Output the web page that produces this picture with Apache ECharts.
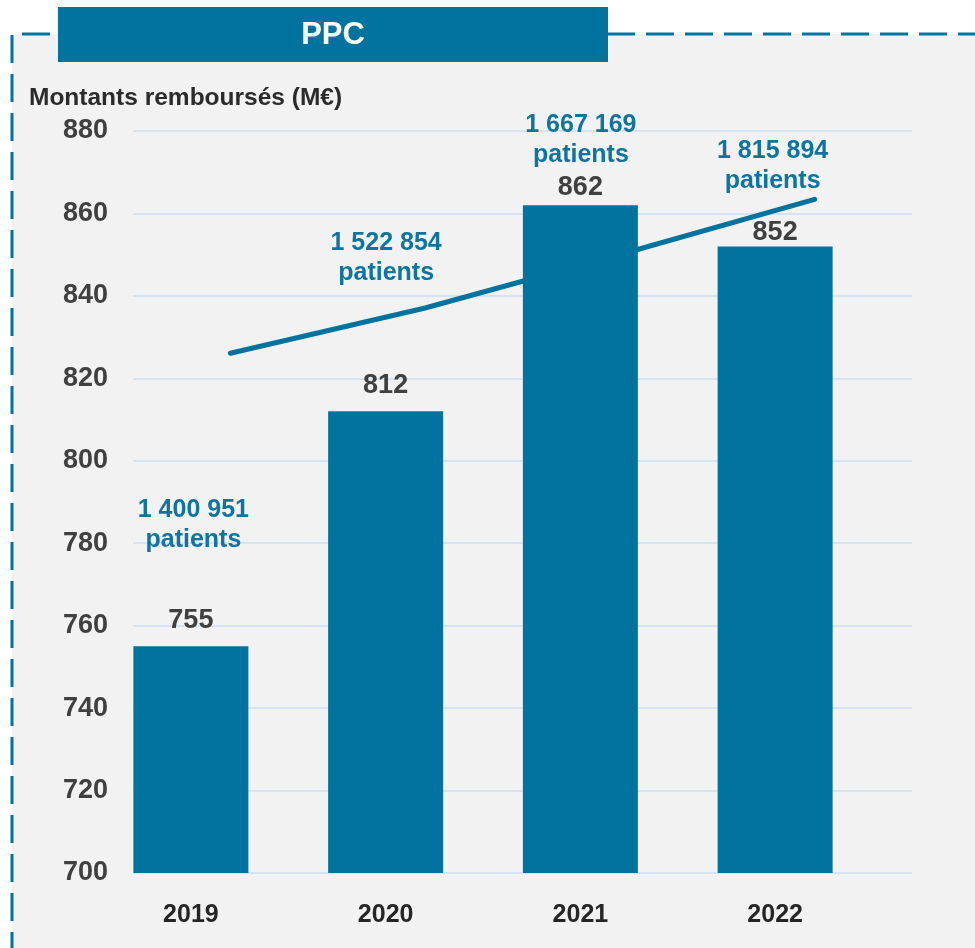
<!DOCTYPE html>
<html>
<head>
<meta charset="utf-8">
<script src="https://cdn.jsdelivr.net/npm/echarts@6/dist/echarts.min.js"></script>
<style>
html,body{margin:0;padding:0;background:#fff;}
#chart{width:975px;height:948px;}
</style>
</head>
<body>
<div id="chart"></div>
<script>
// ---- Data ----
const years = ['2019', '2020', '2021', '2022'];
const montants = [755, 812, 862, 852];            // Montants remboursés (M€)
const patients = [1400951, 1522854, 1667169, 1815894];
const yMin = 700, yMax = 880, yStep = 20;
const patientsAxisMax = 2000000;
const title = 'PPC';
const yAxisTitle = 'Montants remboursés (M€)';

// ---- Layout / style ----
const TEAL = '#00739f';
const FONT = '"Liberation Sans", Arial, sans-serif';
const patientLabelOffsets = [[-37, 206.5], [-39, -14.5], [-39, -79], [-42, 1.5]];
const barLabelDistances = [12, 12, 4, 0];

function fmt(n) {
  return String(n).replace(/\B(?=(\d{3})+(?!\d))/g, ' ');
}

const chart = echarts.init(document.getElementById('chart'), null, {renderer: 'canvas'});

const option = {
  backgroundColor: '#ffffff',
  animation: false,
  textStyle: {fontFamily: FONT},
  grid: [
    {left: 133, right: 63, top: 131, bottom: 75},
    {left: 93.5, right: 102.5, top: 131, bottom: 75}
  ],
  xAxis: [
    {gridIndex: 0, type: 'category', data: years, show: false},
    {
      gridIndex: 1, type: 'category', data: years,
      axisLine: {show: false}, axisTick: {show: false},
      axisLabel: {margin: 30, color: '#262626', fontSize: 25, fontWeight: 'bold', fontFamily: FONT}
    }
  ],
  yAxis: [
    {
      gridIndex: 0, type: 'value', min: yMin, max: yMax, interval: yStep,
      axisLine: {show: false}, axisTick: {show: false},
      axisLabel: {margin: 25, color: '#404040', fontSize: 27, fontWeight: 'bold', fontFamily: FONT},
      splitLine: {lineStyle: {color: '#d5e3f6', width: 2}}
    },
    {gridIndex: 0, type: 'value', min: 0, max: patientsAxisMax, show: false, splitLine: {show: false}},
    {gridIndex: 1, type: 'value', min: yMin, max: yMax, interval: yStep, show: false, splitLine: {show: false}}
  ],
  series: [
    {
      type: 'bar', xAxisIndex: 1, yAxisIndex: 2,
      data: montants.map((v, i) => ({value: v, label: {distance: barLabelDistances[i]}})),
      barWidth: 115,
      itemStyle: {color: TEAL},
      label: {
        show: true, position: 'top', distance: 12,
        color: '#404040', fontSize: 27, fontWeight: 'bold', fontFamily: FONT
      }
    },
    {
      type: 'line', xAxisIndex: 0, yAxisIndex: 1,
      data: patients.map((v, i) => ({
        value: v,
        label: {offset: patientLabelOffsets[i]}
      })),
      symbol: 'circle', symbolSize: 0, showSymbol: true,
      lineStyle: {color: TEAL, width: 5, cap: 'round'},
      itemStyle: {color: TEAL},
      label: {
        show: true, position: 'top',
        formatter: p => fmt(p.value) + '\npatients',
        color: '#0e74a0', fontSize: 25, fontWeight: 'bold', lineHeight: 30,
        fontFamily: FONT, align: 'center'
      },
      z: 5
    }
  ],
  graphic: [
    {type: 'rect', z: -100, shape: {x: 12, y: 34, width: 963, height: 914}, style: {fill: '#f2f2f2'}, silent: true},
    {type: 'line', z: 50, shape: {x1: 12, y1: 34, x2: 975, y2: 34},
     style: {stroke: TEAL, lineWidth: 3, lineDash: [28, 11], lineDashOffset: 29}},
    {type: 'line', z: 50, shape: {x1: 12, y1: 35, x2: 12, y2: 948},
     style: {stroke: TEAL, lineWidth: 3, lineDash: [28, 11]}},
    {type: 'rect', z: 60, shape: {x: 58, y: 7, width: 550, height: 55}, style: {fill: TEAL}},
    {type: 'text', z: 61, x: 333, y: 35,
     style: {text: title, fill: '#ffffff', font: 'bold 31px ' + FONT, textAlign: 'center', textVerticalAlign: 'middle'}},
    {type: 'text', z: 61, x: 29, y: 98,
     style: {text: yAxisTitle, fill: '#2b2b2b', font: 'bold 24.5px ' + FONT, textAlign: 'left', textVerticalAlign: 'middle'}}
  ]
};
chart.setOption(option);
</script>
</body>
</html>
